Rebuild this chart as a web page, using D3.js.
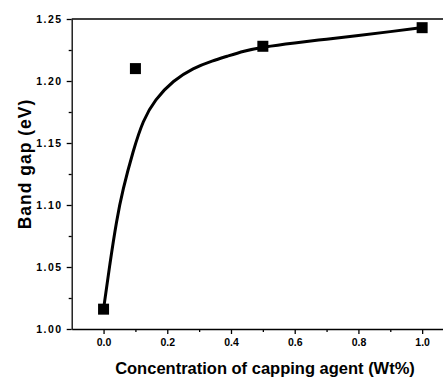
<!DOCTYPE html>
<html>
<head>
<meta charset="utf-8">
<script src="https://cdn.jsdelivr.net/npm/d3@7"></script>
<style>
  body { margin: 0; background: #fff; }
  svg { display: block; font-family: "Liberation Sans", Arial, sans-serif; }
</style>
</head>
<body>
<script>
// measured points
const conc = [0.0, 0.1, 0.5, 1.0];
const bandGap = [1.016, 1.210, 1.228, 1.243];

// fitted curve
const fitX = [0.0, 0.02, 0.041, 0.06, 0.093, 0.124, 0.161, 0.219, 0.281, 0.344, 0.386, 0.44, 0.5, 0.6, 0.7, 0.8, 0.9, 1.0];
const fitY = [1.016, 1.053, 1.088, 1.112, 1.144, 1.1685, 1.185, 1.2005, 1.2105, 1.2165, 1.2198, 1.2242, 1.2275, 1.2308, 1.2337, 1.2367, 1.2398, 1.243];

const xTicks = [0.0, 0.2, 0.4, 0.6, 0.8, 1.0];
const yTicks = [1.00, 1.05, 1.10, 1.15, 1.20, 1.25];

let width = 443;
let height = 378;

let margin = {
    top: 19,
    bottom: 49,
    left: 71.7,
    right: -11
};

let svg = d3.select("body")
            .append("svg")
            .attr("width", width)
            .attr("height", height);

/* Scales */
let x = d3.scaleLinear()
          .domain([-0.1, 1.1])
          .range([margin.left, width - margin.right]);

let y = d3.scaleLinear()
          .domain([1.0, 1.25])
          .range([height - margin.bottom, margin.top]);

/* minor ticks first */
svg.append("g")
   .attr("transform", "translate(0," + (height - margin.bottom) + ")")
   .call(d3.axisBottom(x).tickValues([0.1, 0.3, 0.5, 0.7, 0.9]).tickSize(3).tickFormat(""))
   .call(g => g.select(".domain").remove());

svg.append("g")
   .attr("transform", "translate(" + margin.left + ",0)")
   .call(d3.axisLeft(y).tickValues([1.025, 1.075, 1.125, 1.175, 1.225]).tickSize(3).tickFormat(""))
   .call(g => g.select(".domain").remove());

/* X axis */
let ejeX = svg.append("g")
              .attr("transform", "translate(0," + (height - margin.bottom) + ")")
              .call(d3.axisBottom(x).tickValues(xTicks).tickSize(5).tickSizeOuter(0).tickPadding(5).tickFormat(d3.format(".1f")));
ejeX.selectAll("text")
    .style("font-size", "10.5px")
    .style("font-weight", "bold")
    .attr("fill", "#000");

/* Y axis */
let ejeY = svg.append("g")
              .attr("transform", "translate(" + margin.left + ",0)")
              .call(d3.axisLeft(y).tickValues(yTicks).tickSize(5).tickSizeOuter(0).tickPadding(4).tickFormat(d3.format(".2f")));
ejeY.selectAll("text")
    .style("font-size", "10.5px")
    .style("font-weight", "bold")
    .style("letter-spacing", "1.5px")
    .attr("fill", "#000");

svg.selectAll(".domain, .tick line")
   .attr("stroke", "#000")
   .attr("stroke-width", 1.3);

/* top frame line */
svg.append("line")
   .attr("x1", margin.left)
   .attr("x2", width - margin.right)
   .attr("y1", y(1.25))
   .attr("y2", y(1.25))
   .attr("stroke", "#000")
   .attr("stroke-width", 1.3);

/* fit line */
let fitData = fitX.map((v, i) => ({ x: v, y: fitY[i] }));
svg.append("path")
   .datum(fitData)
   .attr("fill", "none")
   .attr("stroke", "#000")
   .attr("stroke-width", 3)
   .attr("d", d3.line().x(d => x(d.x)).y(d => y(d.y)).curve(d3.curveBasis));

/* squares */
let s = 11;
svg.selectAll("rect.pt")
   .data(conc.map((v, i) => ({ x: v, y: bandGap[i] })))
   .join("rect")
   .attr("class", "pt")
   .attr("x", d => x(d.x) - s / 2)
   .attr("y", d => y(d.y) - s / 2)
   .attr("width", s)
   .attr("height", s)
   .attr("fill", "#000");

/* axis titles */
svg.append("text")
   .attr("x", 265)
   .attr("y", 374)
   .attr("text-anchor", "middle")
   .style("font-size", "16.5px")
   .style("font-weight", "bold")
   .text("Concentration of capping agent (Wt%)");

svg.append("text")
   .attr("transform", "translate(31," + 164 + ") rotate(-90)")
   .attr("text-anchor", "middle")
   .style("font-size", "17.5px")
   .style("font-weight", "bold")
   .style("letter-spacing", "1px")
   .text("Band gap (eV)");
</script>
</body>
</html>
